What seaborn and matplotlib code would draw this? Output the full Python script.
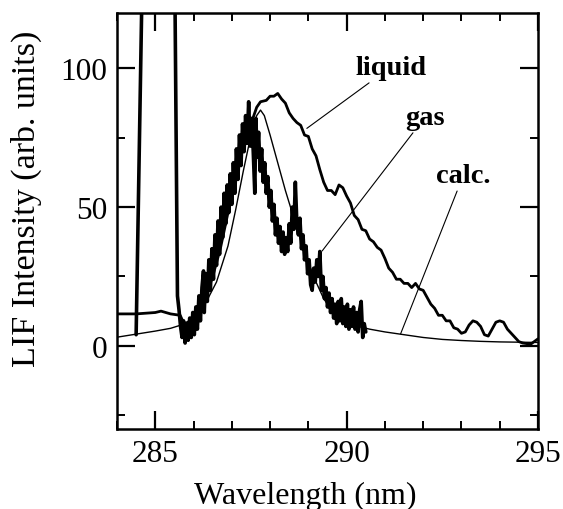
import matplotlib
matplotlib.use("Agg")
import matplotlib.pyplot as plt
import seaborn as sns
import pandas as pd
from matplotlib.ticker import MultipleLocator

# ---------------- data ----------------
liquid_x = [284.00, 284.50, 285.00, 285.15, 285.40, 285.65, 285.75, 285.85, 285.95, 286.10,
            286.30, 286.50, 286.70, 286.90, 287.10, 287.30, 287.50, 287.65, 287.75, 287.90,
            288.00, 288.10, 288.20, 288.30, 288.40, 288.50, 288.60, 288.70, 288.80, 288.90,
            289.00, 289.10, 289.20, 289.30, 289.40, 289.50, 289.60, 289.70, 289.80, 289.90,
            290.00, 290.10, 290.20, 290.30, 290.40, 290.50, 290.60, 290.70, 290.80, 290.90,
            291.00, 291.10, 291.20, 291.30, 291.40, 291.50, 291.60, 291.70, 291.80, 291.90,
            292.00, 292.10, 292.20, 292.30, 292.40, 292.50, 292.60, 292.70, 292.80, 292.90,
            293.00, 293.10, 293.20, 293.30, 293.40, 293.50, 293.60, 293.70, 293.80, 293.90,
            294.00, 294.10, 294.20, 294.30, 294.40, 294.50, 294.60, 294.70, 294.80, 294.90,
            295.00]
liquid_y = [11.5, 11.5, 12.0, 12.5, 11.5, 11.0, 8.0, 4.0, 6.0, 10.0,
            17.0, 25.0, 35.0, 48.0, 60.0, 72.0, 80.0, 86.0, 88.0, 88.5,
            90.0, 90.0, 91.0, 89.0, 87.5, 84.0, 82.0, 80.5, 79.5, 76.0,
            75.5, 71.0, 68.5, 63.5, 59.0, 56.0, 56.0, 54.5, 58.0, 57.0,
            54.0, 51.5, 47.0, 45.5, 42.0, 41.5, 38.5, 37.5, 35.5, 34.5,
            31.5, 28.0, 26.5, 24.0, 24.0, 22.5, 22.5, 21.0, 22.5, 20.5,
            20.0, 17.5, 15.0, 13.5, 11.0, 11.0, 9.0, 9.0, 6.5, 6.0,
            4.5, 5.0, 7.5, 9.0, 8.5, 7.0, 4.0, 3.5, 6.0, 8.5,
            9.0, 8.5, 6.0, 4.5, 3.0, 1.5, 1.0, 0.8, 0.5, 1.5,
            2.5]

gas_x = [284.50, 284.68, 285.00, 285.50, 285.58, 285.62, 285.66, 285.70, 285.74, 285.78,
         285.82, 285.86, 285.90, 285.94, 285.98, 286.02, 286.06, 286.10, 286.14, 286.18,
         286.22, 286.26, 286.28, 286.32, 286.36, 286.40, 286.44, 286.48, 286.52, 286.56,
         286.60, 286.64, 286.68, 286.72, 286.76, 286.80, 286.84, 286.88, 286.92, 286.96,
         287.00, 287.04, 287.08, 287.12, 287.16, 287.20, 287.24, 287.28, 287.32, 287.36,
         287.40, 287.44, 287.48, 287.52, 287.56, 287.60, 287.63, 287.66, 287.70, 287.74,
         287.78, 287.82, 287.86, 287.90, 287.94, 287.98, 288.02, 288.06, 288.10, 288.14,
         288.18, 288.22, 288.26, 288.30, 288.34, 288.38, 288.42, 288.46, 288.50, 288.54,
         288.58, 288.62, 288.66, 288.70, 288.74, 288.78, 288.82, 288.86, 288.90, 288.94,
         288.98, 289.02, 289.06, 289.10, 289.14, 289.18, 289.22, 289.26, 289.30, 289.34,
         289.38, 289.42, 289.46, 289.50, 289.54, 289.58, 289.62, 289.66, 289.70, 289.74,
         289.78, 289.82, 289.86, 289.90, 289.94, 289.98, 290.02, 290.06, 290.10, 290.14,
         290.18, 290.22, 290.26, 290.30, 290.34, 290.38, 290.42, 290.46, 290.50]
gas_y = [4, 150, 170, 150, 18, 13, 7, 3, 9, 1,
         8, 2, 10, 3, 12, 4, 14, 6, 18, 9,
         21, 27, 12, 26, 16, 31, 20, 35, 24, 40,
         29, 45, 33, 50, 39, 55, 44, 58, 48, 62,
         51, 66, 55, 71, 60, 76, 65, 80, 70, 83,
         73, 88, 72, 82, 70, 55, 82, 68, 77, 63,
         71, 59, 66, 55, 61, 50, 56, 45, 51, 40,
         46, 37, 43, 34, 41, 33, 39, 34, 44, 37,
         50, 42, 59, 44, 40, 46, 35, 40, 31, 36,
         26, 31, 22, 20, 28, 23, 31, 25, 34, 20,
         25, 17, 21, 14, 19, 12, 17, 10, 15, 8,
         16, 9, 17, 8, 14, 7, 15, 6, 13, 7,
         14, 6, 12, 5, 13, 16, 3, 8, 5]

calc_x = [284.0, 284.5, 285.0, 285.4, 285.7, 286.0, 286.3, 286.6, 286.9, 287.1,
          287.3, 287.5, 287.65, 287.75, 287.85, 288.0, 288.2, 288.4, 288.6, 288.8,
          289.0, 289.2, 289.4, 289.6, 289.8, 290.0, 290.3, 290.6, 291.0, 291.5,
          292.0, 292.5, 293.0, 293.5, 294.0, 295.0]
calc_y = [3.1, 4.2, 5.3, 6.3, 7.6, 10.0, 15.0, 23.0, 36.0, 49.0,
          63.0, 76.0, 83.0, 85.0, 83.0, 76.0, 66.0, 56.0, 47.0, 38.0,
          30.0, 23.0, 17.0, 13.0, 10.0, 8.5, 7.0, 6.0, 5.0, 4.0,
          3.0, 2.3, 1.9, 1.6, 1.4, 1.2]

x_ticks = [285, 290, 295]
y_ticks = [0, 50, 100]
x_label = "Wavelength (nm)"
y_label = "LIF Intensity (arb. units)"
labels = ["liquid", "gas", "calc."]

# ---------------- plotting ----------------
sns.set_theme(style="ticks")
plt.rcParams["font.family"] = ["Liberation Serif", "DejaVu Serif"]
plt.rcParams["axes.linewidth"] = 1.8
plt.rcParams["text.color"] = "black"
plt.rcParams["axes.labelcolor"] = "black"
plt.rcParams["xtick.color"] = "black"
plt.rcParams["ytick.color"] = "black"
plt.rcParams["axes.edgecolor"] = "black"

fig = plt.figure(figsize=(5.63, 5.10), dpi=100)
ax = fig.add_axes([0.2078, 0.1569, 0.7478, 0.8156])

df_l = pd.DataFrame({"x": liquid_x, "y": liquid_y})
df_g = pd.DataFrame({"x": gas_x, "y": gas_y})
df_c = pd.DataFrame({"x": calc_x, "y": calc_y})

sns.lineplot(data=df_c, x="x", y="y", ax=ax, color="black", lw=1.0, estimator=None, sort=False)
sns.lineplot(data=df_l, x="x", y="y", ax=ax, color="black", lw=2.0, estimator=None, sort=False)
sns.lineplot(data=df_g, x="x", y="y", ax=ax, color="black", lw=2.6, estimator=None, sort=False)

ax.set_xlim(284, 295)
ax.set_ylim(-30, 120)
ax.set_xticks(x_ticks)
ax.set_yticks(y_ticks)
ax.xaxis.set_minor_locator(MultipleLocator(1))
ax.yaxis.set_minor_locator(MultipleLocator(25))
ax.tick_params(which="both", direction="in", top=True, right=True,
               color="black", labelcolor="black")
ax.tick_params(which="major", length=13, width=1.6, labelsize=22.5, pad=7)
ax.tick_params(which="minor", length=6, width=1.4)
for s in ax.spines.values():
    s.set_color("black")

ax.set_xlabel(x_label, fontsize=23, color="black")
ax.set_ylabel(y_label, fontsize=24.5, color="black")
ax.xaxis.label.set_va("center")
ax.yaxis.label.set_va("center")
ax.xaxis.set_label_coords(0.4466, -0.161)
ax.yaxis.set_label_coords(-0.216, 0.555)

# annotations with leader lines
ann_kw = dict(fontsize=20.5, fontweight="bold", ha="center", va="center", color="black",
              arrowprops=dict(arrowstyle="-", lw=0.8, color="black", shrinkA=0, shrinkB=0))
ax.annotate(labels[0], xy=(288.96, 78.4), xytext=(291.15, 100.5), **ann_kw)
ax.annotate(labels[1], xy=(289.36, 34.2), xytext=(292.05, 82.5), **ann_kw)
ax.annotate(labels[2], xy=(291.41, 4.3), xytext=(293.05, 61.5), **ann_kw)

fig.savefig("out.png", dpi=100)
